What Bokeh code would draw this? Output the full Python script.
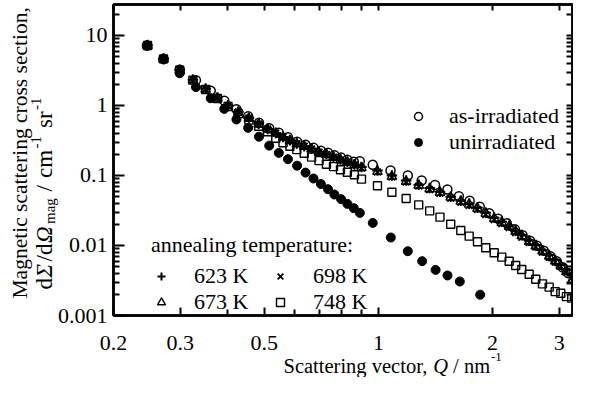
import math
from bokeh.plotting import figure
from bokeh.layouts import row
from bokeh.models import (FixedTicker, NumeralTickFormatter, LogAxis, Label,
                          Legend, LegendItem, Range1d)
from bokeh.embed import file_html
from bokeh.resources import INLINE

FONT = "'Liberation Serif', serif"

# ---- data ----
q_unirr = [0.245, 0.271, 0.299, 0.330, 0.361, 0.392, 0.422, 0.453, 0.484, 0.515, 0.546,
           0.577, 0.610, 0.642, 0.674, 0.705, 0.736, 0.765, 0.797, 0.828, 0.861, 0.893,
           0.966, 1.078, 1.195, 1.304, 1.415, 1.521, 1.639, 1.855]
s_unirr = [7.20, 4.54, 2.89, 1.83, 1.27, 0.894, 0.631, 0.479, 0.358, 0.267, 0.210,
           0.171, 0.138, 0.110, 0.0906, 0.0756, 0.0637, 0.0535, 0.0459, 0.0393, 0.0341, 0.0292,
           0.0210, 0.0130, 0.00829, 0.00597, 0.00448, 0.00373, 0.00306, 0.00198]

q_asirr = [0.245, 0.271, 0.299, 0.330, 0.361, 0.392, 0.422, 0.453, 0.484, 0.515, 0.546,
           0.577, 0.610, 0.642, 0.674, 0.705, 0.736, 0.765, 0.797, 0.828, 0.861, 0.893,
           0.966, 1.076, 1.195, 1.30, 1.41, 1.52, 1.63, 1.74, 1.85, 1.96, 2.07,
           2.18, 2.29, 2.40, 2.51, 2.62, 2.73, 2.84, 2.95, 3.06, 3.17]
s_asirr = [7.20, 4.63, 3.25, 2.30, 1.63, 1.17, 0.885, 0.703, 0.568, 0.474, 0.409,
           0.352, 0.304, 0.275, 0.249, 0.226, 0.212, 0.195, 0.180, 0.168, 0.157, 0.160,
           0.142, 0.118, 0.100, 0.0848, 0.0734, 0.0631, 0.0506, 0.0437, 0.0358, 0.0289, 0.0241,
           0.0208, 0.0171, 0.0140, 0.0117, 0.00993, 0.00843, 0.00703, 0.00597, 0.00490, 0.00402]

q_ann = [0.246, 0.271, 0.299, 0.324, 0.350, 0.376, 0.401, 0.427, 0.455, 0.483, 0.510, 0.536,
         0.560, 0.584, 0.609, 0.637, 0.666, 0.697, 0.729, 0.761, 0.794, 0.828, 0.864, 0.902,
         0.994, 1.085, 1.183, 1.277, 1.365, 1.453, 1.551, 1.649, 1.735, 1.825, 1.919, 2.020,
         2.115, 2.212, 2.302, 2.388, 2.498, 2.600, 2.708, 2.821, 2.926, 3.027, 3.133, 3.235]
s_623 = [7.25, 4.70, 3.22, 2.33, 1.73, 1.30, 1.01, 0.815, 0.665, 0.548, 0.463, 0.405,
         0.356, 0.318, 0.286, 0.262, 0.242, 0.218, 0.202, 0.185, 0.169, 0.157, 0.144, 0.132,
         0.118, 0.100, 0.0845, 0.0740, 0.0660, 0.0585, 0.0498, 0.0437, 0.0395, 0.0346, 0.0293, 0.0250,
         0.0219, 0.0192, 0.0163, 0.0141, 0.0118, 0.0102, 0.0086, 0.0073, 0.0062, 0.0053, 0.0045, 0.0037]
s_673 = [7.15, 4.58, 3.16, 2.28, 1.70, 1.27, 0.99, 0.795, 0.652, 0.537, 0.456, 0.400,
         0.350, 0.314, 0.281, 0.258, 0.238, 0.213, 0.198, 0.181, 0.166, 0.154, 0.141, 0.129,
         0.114, 0.0965, 0.0820, 0.0720, 0.0642, 0.0572, 0.0487, 0.0427, 0.0386, 0.0338, 0.0287, 0.0243,
         0.0213, 0.0187, 0.0158, 0.0137, 0.0114, 0.0098, 0.0083, 0.0070, 0.0060, 0.0051, 0.0042, 0.0031]
s_698 = [7.20, 4.62, 3.20, 2.31, 1.72, 1.29, 1.00, 0.805, 0.660, 0.543, 0.460, 0.403,
         0.353, 0.317, 0.284, 0.261, 0.240, 0.215, 0.199, 0.182, 0.166, 0.154, 0.141, 0.128,
         0.112, 0.0950, 0.0805, 0.0705, 0.0628, 0.0558, 0.0472, 0.0413, 0.0373, 0.0326, 0.0276, 0.0234,
         0.0205, 0.0180, 0.0152, 0.0131, 0.0110, 0.0095, 0.0080, 0.0068, 0.0058, 0.0050, 0.0042, 0.0035]
s_748 = [7.20, 4.63, 3.19, 2.30, 1.69, 1.259, 0.968, 0.764, 0.617, 0.506, 0.422, 0.341,
         0.294, 0.262, 0.234, 0.208, 0.183, 0.163, 0.145, 0.134, 0.121, 0.1115, 0.1026, 0.0886,
         0.0715, 0.0577, 0.0469, 0.0380, 0.0312, 0.0254, 0.0201, 0.0164, 0.0136, 0.01133, 0.00930, 0.00789,
         0.00681, 0.00597, 0.00518, 0.00454, 0.00389, 0.00330, 0.00283, 0.00254, 0.00219, 0.00208, 0.00186, 0.00177]

x_ticks = [0.2, 0.3, 0.5, 1, 2, 3]
x_minor = [0.4, 0.6, 0.7, 0.8, 0.9]
x_all_minor = [0.2, 0.3, 0.4, 0.5, 0.6, 0.7, 0.8, 0.9, 1, 2, 3]
y_ticks = [0.001, 0.01, 0.1, 1, 10]
y_minor = [m * d for d in [0.001, 0.01, 0.1, 1] for m in range(2, 10)] + [20]

W, H = 573, 377

# ---- background figure that carries the axis titles ----
tfig = figure(width=W, height=H, x_range=Range1d(0, 1), y_range=Range1d(0, 1),
              x_axis_location=None, y_axis_location=None,
              output_backend="svg", toolbar_location=None, min_border=0)
tfig.grid.visible = False
tfig.outline_line_color = None
tfig.background_fill_color = "white"
tfig.border_fill_color = "white"

def lab(x, y, text, size, style="normal", angle=0.0):
    tfig.add_layout(Label(x=x, y=y, x_units="screen", y_units="screen", text=text,
                          text_font=FONT, text_font_size=size, text_font_style=style,
                          text_color="black", text_align="left", text_baseline="alphabetic",
                          angle=angle))

# x title
lab(283, 12, "Scattering vector,", "20.5px")
lab(432.7, 12, "Q", "20.5px", "italic")
lab(452.6, 12, "/ nm", "20.5px")
lab(490.5, 21, "-1", "13px")

# y title (rotated)
A = math.pi / 2
lab(19.3, 79, "Magnetic scattering cross section,", "21.5px", angle=A)
bx = 44
y0 = 88
lab(bx, y0 + 0, "d", "23px", angle=A)
lab(bx, y0 + 12, "\u03a3", "23px", "italic", angle=A)
lab(bx, y0 + 28, "/d", "23px", angle=A)
lab(bx, y0 + 46.5, "\u03a9", "23px", "italic", angle=A)
lab(bx + 5, y0 + 65.5, "mag", "15px", angle=A)
lab(bx, y0 + 98, "/", "23px", angle=A)
lab(bx, y0 + 111.5, "cm", "23px", angle=A)
lab(bx - 9, y0 + 141, "-1", "15px", angle=A)
lab(bx, y0 + 161.5, "sr", "23px", angle=A)
lab(bx - 9, y0 + 179.5, "-1", "15px", angle=A)

# ---- main plot (overlaid on the title figure) ----
p = figure(width=W, height=H, x_axis_type="log", y_axis_type="log",
           x_range=Range1d(0.2, 3.25), y_range=Range1d(0.001, 27.7),
           output_backend="svg", toolbar_location=None,
           min_border_left=113, min_border_right=1, min_border_top=4, min_border_bottom=62)
p.margin = (0, 0, 0, -W)
for fig in (tfig, p):
    try:
        fig.frame_align = False
    except Exception:
        pass
p.xgrid.visible = False
p.ygrid.visible = False
p.outline_line_color = "black"
p.outline_line_width = 2.5
p.background_fill_color = "white"
p.border_fill_color = None

def style_axis(ax, major_in, minor_in):
    ax.axis_line_color = "black"
    ax.axis_line_width = 2.5
    ax.major_tick_line_color = "black"
    ax.minor_tick_line_color = "black"
    ax.major_tick_line_width = 2
    ax.minor_tick_line_width = 2
    ax.major_tick_in = major_in
    ax.major_tick_out = 0
    ax.minor_tick_in = minor_in
    ax.minor_tick_out = 0
    ax.major_label_text_font = FONT
    ax.major_label_text_font_size = "22px"
    ax.major_label_text_color = "black"

xax = p.xaxis[0]
xax.ticker = FixedTicker(ticks=x_ticks, minor_ticks=x_minor)
xax.formatter = NumeralTickFormatter(format="0.[000]")
style_axis(xax, 8, 6)
xax.major_label_standoff = 20

yax = p.yaxis[0]
yax.ticker = FixedTicker(ticks=y_ticks, minor_ticks=y_minor)
yax.formatter = NumeralTickFormatter(format="0.[000]")
style_axis(yax, 11, 6)
yax.major_label_standoff = 6

top = LogAxis(ticker=FixedTicker(ticks=[], minor_ticks=x_all_minor))
style_axis(top, 10, 6)
p.add_layout(top, "above")
right = LogAxis(ticker=FixedTicker(ticks=[], minor_ticks=y_ticks + y_minor))
style_axis(right, 10, 6)
p.add_layout(right, "right")

# ---- data marks ----
r748 = p.scatter(q_ann, s_748, marker="square", size=8, fill_color=None,
                 line_color="black", line_width=1.4)
r698 = p.scatter(q_ann, s_698, marker="x", size=9.5, line_color="black", line_width=1.8)
r673 = p.scatter(q_ann, s_673, marker="triangle", size=9.5, fill_color=None,
                 line_color="black", line_width=1.4)
r623 = p.scatter(q_ann, s_623, marker="cross", size=10.5, line_color="black", line_width=2)
ras = p.scatter(q_asirr, s_asirr, marker="circle", size=9, fill_color=None,
                line_color="black", line_width=1.5)
run = p.scatter(q_unirr, s_unirr, marker="circle", size=9, fill_color="black",
                line_color="black")

common = dict(border_line_color=None, background_fill_alpha=0,
              label_text_font=FONT, label_text_font_size="22px",
              label_text_color="black", glyph_width=20, glyph_height=20,
              padding=0, margin=0)

leg1 = Legend(items=[LegendItem(label="as-irradiated", renderers=[ras]),
                     LegendItem(label="unirradiated", renderers=[run])],
              location=(295, 160), label_standoff=21, spacing=0, **common)
p.add_layout(leg1)

leg2 = Legend(items=[LegendItem(label="623 K", renderers=[r623]),
                     LegendItem(label="673 K", renderers=[r673]),
                     LegendItem(label="698 K", renderers=[r698]),
                     LegendItem(label="748 K", renderers=[r748])],
              ncols=2, title="annealing temperature:", title_text_font=FONT,
              title_text_font_size="22px", title_text_font_style="normal",
              title_text_color="black", title_standoff=5,
              location=(38, 0), label_standoff=23, spacing=0, label_width=76, **common)
p.add_layout(leg2)

layout = row(tfig, p)
open("out.html", "w").write(file_html(layout, INLINE))
